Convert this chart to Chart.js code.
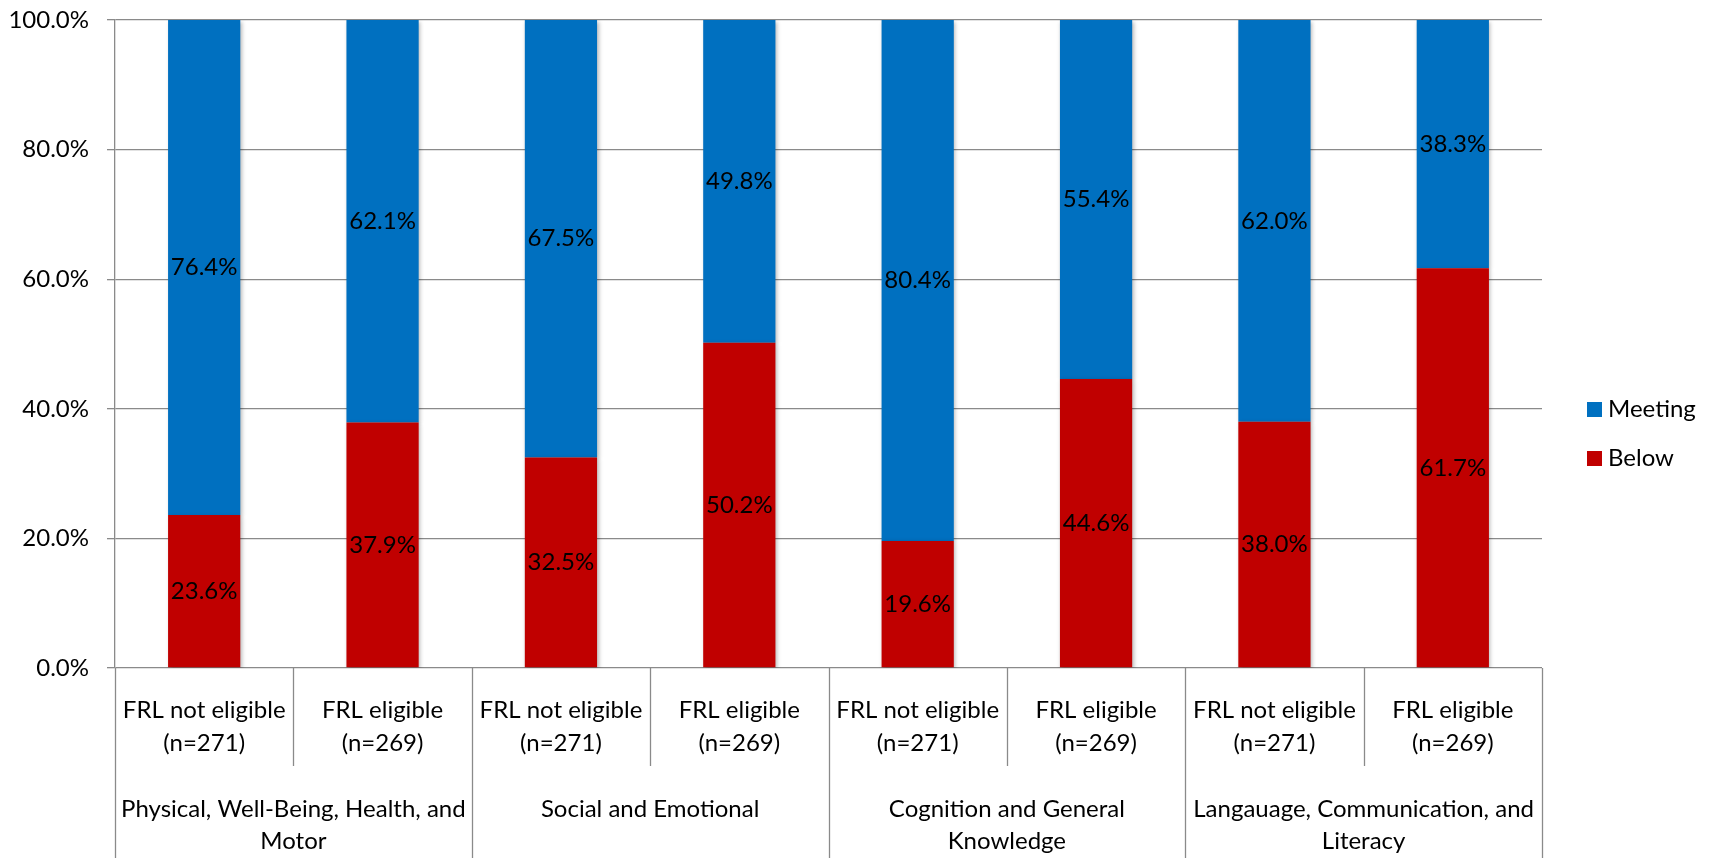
<!DOCTYPE html>
<html>
<head>
<meta charset="utf-8">
<script src="https://cdn.jsdelivr.net/npm/chart.js@4/dist/chart.umd.min.js"></script>
<style>
  html, body { margin: 0; padding: 0; background: #fff; }
  #wrap { width: 1713px; height: 858px; }
</style>
</head>
<body>
<div id="wrap"><canvas id="c" width="1713" height="858"></canvas></div>
<script>
// Readiness by domain and FRL eligibility
const categories = [
  ["FRL not eligible", "(n=271)"], ["FRL eligible", "(n=269)"],
  ["FRL not eligible", "(n=271)"], ["FRL eligible", "(n=269)"],
  ["FRL not eligible", "(n=271)"], ["FRL eligible", "(n=269)"],
  ["FRL not eligible", "(n=271)"], ["FRL eligible", "(n=269)"]
];
const domains = [
  ["Physical, Well-Being, Health, and", "Motor"],
  ["Social and Emotional"],
  ["Cognition and General", "Knowledge"],
  ["Langauage, Communication, and", "Literacy"]
];
const meeting = [76.4, 62.1, 67.5, 49.8, 80.4, 55.4, 62.0, 38.3];
const below   = [23.6, 37.9, 32.5, 50.2, 19.6, 44.6, 38.0, 61.7];
const yTicks  = [0, 20, 40, 60, 80, 100];

const FONT = "Lato, 'Open Sans', sans-serif";
const FSIZE = 24;
const LINE = '#8a8a8a';

// value labels centred in each stacked segment
const segmentLabels = {
  id: 'segmentLabels',
  afterDatasetsDraw(chart) {
    const ctx = chart.ctx;
    ctx.save();
    ctx.font = FSIZE + 'px ' + FONT;
    ctx.fillStyle = '#000';
    ctx.textAlign = 'center';
    ctx.textBaseline = 'middle';
    chart.data.datasets.forEach((ds, di) => {
      chart.getDatasetMeta(di).data.forEach((el, i) => {
        const y = (el.y + el.base) / 2;
        ctx.fillText(ds.data[i].toFixed(1) + '%', el.x, y);
      });
    });
    ctx.restore();
  }
};

// soft drop shadow under bars
const barShadow = {
  id: 'barShadow',
  beforeDatasetsDraw(chart) {
    const ctx = chart.ctx;
    ctx.save();
    ctx.shadowColor = 'rgba(0,0,0,0.28)';
    ctx.shadowBlur = 4;
    ctx.shadowOffsetX = 1.5;
    ctx.shadowOffsetY = 1.5;
  },
  afterDatasetsDraw(chart) {
    chart.ctx.restore();
  }
};

// two-level category axis: separators and domain names
const groupAxis = {
  id: 'groupAxis',
  afterDraw(chart) {
    const ctx = chart.ctx;
    const x = chart.scales.x;
    const area = chart.chartArea;
    const H = chart.height;
    const n = categories.length;
    const edge = k => {
      if (k === 0) return area.left;
      if (k === n) return area.right;
      return (x.getPixelForValue(k - 1) + x.getPixelForValue(k)) / 2;
    };
    ctx.save();
    ctx.strokeStyle = LINE;
    ctx.lineWidth = 1.3;
    for (let k = 0; k <= n; k++) {
      const px = Math.round(edge(k)) + 0.5;
      ctx.beginPath();
      ctx.moveTo(px, area.bottom);
      ctx.lineTo(px, k % 2 === 0 ? H : area.bottom + 98);
      ctx.stroke();
    }
    ctx.font = FSIZE + 'px ' + FONT;
    ctx.fillStyle = '#000';
    ctx.textAlign = 'center';
    ctx.textBaseline = 'middle';
    domains.forEach((lines, g) => {
      const cx = (edge(g * 2) + edge(g * 2 + 2)) / 2;
      lines.forEach((t, li) => ctx.fillText(t, cx, area.bottom + 141 + li * 32));
    });
    ctx.restore();
  }
};

// legend at right, Meeting listed first
const sideLegend = {
  id: 'sideLegend',
  afterDraw(chart) {
    const ctx = chart.ctx;
    const area = chart.chartArea;
    const items = chart.data.datasets.slice().reverse();
    const cy = chart.height / 2 + 4;
    ctx.save();
    ctx.font = FSIZE + 'px ' + FONT;
    ctx.textAlign = 'left';
    ctx.textBaseline = 'middle';
    items.forEach((ds, i) => {
      const y = cy - 24 + i * 49;
      ctx.fillStyle = ds.backgroundColor;
      ctx.fillRect(area.right + 45, y - 7, 15, 15);
      ctx.fillStyle = '#000';
      ctx.fillText(ds.label, area.right + 66, y);
    });
    ctx.restore();
  }
};

new Chart(document.getElementById('c'), {
  type: 'bar',
  data: {
    labels: categories,
    datasets: [
      { label: 'Below', data: below, backgroundColor: '#C00000' },
      { label: 'Meeting', data: meeting, backgroundColor: '#0070C0' }
    ]
  },
  options: {
    responsive: false,
    animation: false,
    devicePixelRatio: 1,
    layout: { padding: { top: 20, right: 171, bottom: 0, left: 0 } },
    plugins: { legend: { display: false }, tooltip: { enabled: false } },
    datasets: { bar: { categoryPercentage: 1, barPercentage: 0.405 } },
    scales: {
      x: {
        stacked: true,
        grid: { display: false },
        border: { display: false },
        ticks: {
          color: '#000',
          font: { family: FONT, size: FSIZE, lineHeight: 1.38 },
          maxRotation: 0, autoSkip: false, padding: 18
        },
        afterFit(s) { s.height = 190; }
      },
      y: {
        stacked: true,
        min: 0, max: 100,
        afterBuildTicks(s) { s.ticks = yTicks.map(v => ({ value: v })); },
        ticks: {
          color: '#000',
          font: { family: FONT, size: FSIZE },
          padding: 18,
          callback: v => v.toFixed(1) + '%'
        },
        grid: { color: LINE, lineWidth: 1.3, tickLength: 8 },
        border: { color: LINE, width: 1.3 },
        afterFit(s) { s.width = 115; s.paddingTop = 0; s.paddingBottom = 0; }
      }
    }
  },
  plugins: [barShadow, segmentLabels, groupAxis, sideLegend]
});
</script>
</body>
</html>
